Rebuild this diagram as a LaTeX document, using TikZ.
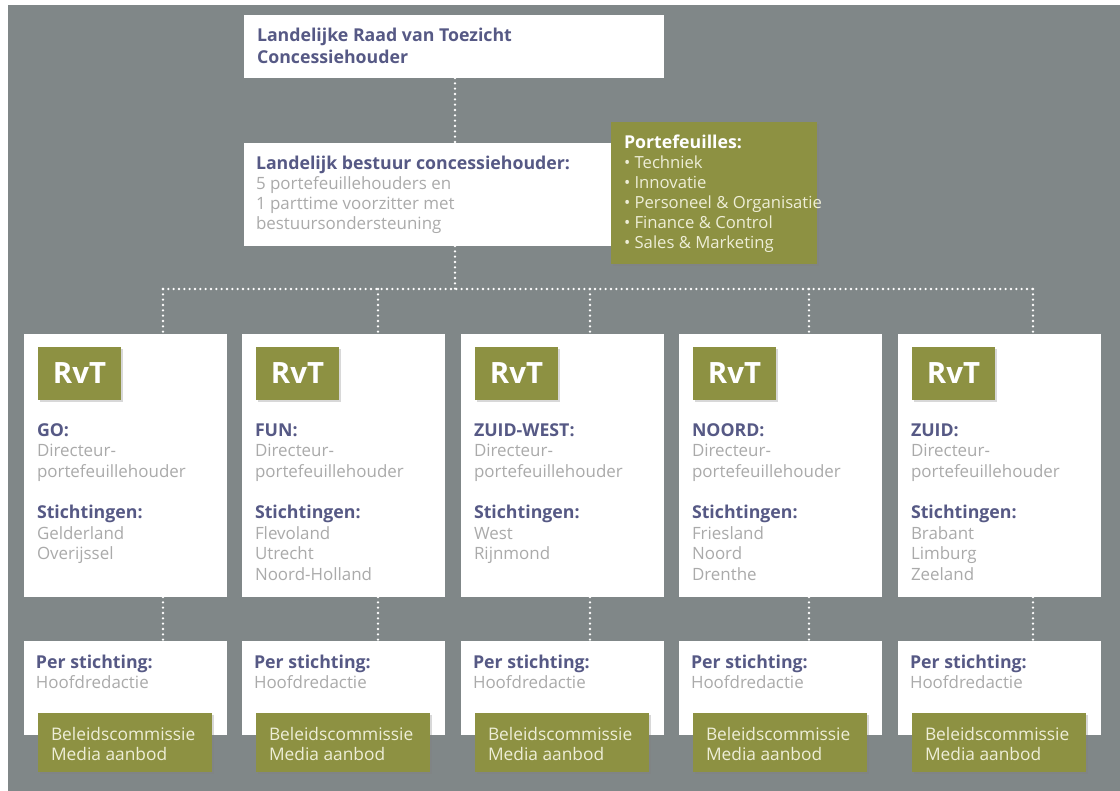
\documentclass[tikz,border=0pt]{standalone}
\usepackage{fontspec}
\setmainfont{Open Sans}
\usetikzlibrary{fit,shadows}
\definecolor{bggray}{RGB}{128,135,136}
\definecolor{olive}{RGB}{141,145,66}
\definecolor{head}{RGB}{86,89,133}
\definecolor{lightt}{RGB}{170,170,170}
\definecolor{cream}{RGB}{238,238,215}
\newcommand\hdf[1][15.45]{\leavevmode\fontsize{13.3}{#1}\selectfont\bfseries\color{head}}
\newcommand\bdf[1][15.45]{\leavevmode\fontsize{12.7}{#1}\selectfont\mdseries\color{lightt}}
\begin{document}
\begin{tikzpicture}[x=0.75pt,y=-0.75pt,
  wbox/.style={fill=white, inner sep=0pt, outer sep=0pt, draw=none},
  gbox/.style={fill=olive, inner sep=0pt, outer sep=0pt, draw=none,
     drop shadow={shadow xshift=1.2pt, shadow yshift=-1.2pt, opacity=0.3}},
  txt/.style={anchor=base west, inner sep=0pt, outer sep=0pt},
  dots/.style={white, line width=1.9pt, line cap=round, dash pattern=on 0pt off 4pt}]
\useasboundingbox (0,0) rectangle (1120,791);
\fill[white] (0,0) rectangle (1120,791);
\fill[bggray] (8,5) rectangle (1120,791);

% top boxes
\node[wbox, fit={(244,15) (664,78)}] (top) {};
\node[wbox, fit={(244,143) (620,246)}] (bestuur) {};
\node[gbox, fit={(611,122) (817,264)}] (port) {};

\node[txt] (topt) at (257,42)
  {\parbox[t]{10cm}{\hdf[16] Landelijke Raad van Toezicht\\Concessiehouder}};
\node[txt] (bestuurt) at (256,170)
  {\parbox[t]{10cm}{\hdf[14.8] Landelijk bestuur concessiehouder:\\
   \bdf[14.8] 5 portefeuillehouders en\\1 parttime voorzitter met\\bestuursondersteuning}};
\node[txt] (portt) at (624,149)
  {\parbox[t]{10cm}{\hdf[15]\color{white} Portefeuilles:\\
   \bdf[15]\fontsize{12.5}{15}\selectfont\color{cream} • Techniek\\• Innovatie\\• Personeel \& Organisatie\\• Finance \& Control\\• Sales \& Marketing}};

% connectors top
\coordinate (hb) at (455,289);
\draw[dots] (hb |- top.south) -- (hb |- bestuur.north);
\draw[dots] (hb |- bestuur.south) -- (hb);

\foreach \i/\L/\dx/\reg/\st in {
  1/24/139/GO/{Gelderland\\Overijssel},
  2/242/136/FUN/{Flevoland\\Utrecht\\Noord-Holland},
  3/461/129/ZUID-WEST/{West\\Rijnmond},
  4/679/130/NOORD/{Friesland\\Noord\\Drenthe},
  5/898/135/ZUID/{Brabant\\Limburg\\Zeeland}}{
  \node[wbox, fit={(\L,334) (\L+203,597)}] (c\i) {};
  \node[gbox, fit={(\L+14,347) (\L+97,400)}] (r\i) {};
  \node[font=\fontsize{22}{26}\selectfont\bfseries, text=white, inner sep=0pt] (rt\i) at (r\i.center) {RvT};
  \node[txt] (ct\i) at (\L+13,436)
   {\parbox[t]{6cm}{\hdf \reg:\\
     \bdf Directeur-\\portefeuillehouder\\[15.45pt]
     \hdf Stichtingen:\\
     \bdf \st}};
  \node[wbox, fit={(\L,641) (\L+203,735)}] (p\i) {};
  \node[txt] (pt\i) at (\L+12,668)
   {\parbox[t]{6cm}{\hdf Per stichting:\\
     \bdf Hoofdredactie}};
  \node[gbox, fit={(\L+14,713) (\L+188,772)}] (b\i) {};
  \node[txt] (bt\i) at (\L+27,740)
   {\parbox[t]{6cm}{\leavevmode\fontsize{13}{15}\selectfont\color{cream}Beleidscommissie\\Media aanbod}};
  \coordinate (h\i) at (\L+\dx,289);
  \draw[dots] (h\i) -- (h\i |- c\i.north);
  \draw[dots] (h\i |- c\i.south) -- (h\i |- p\i.north);
}
\draw[dots] (h1) -- (h5);
\end{tikzpicture}
\end{document}
